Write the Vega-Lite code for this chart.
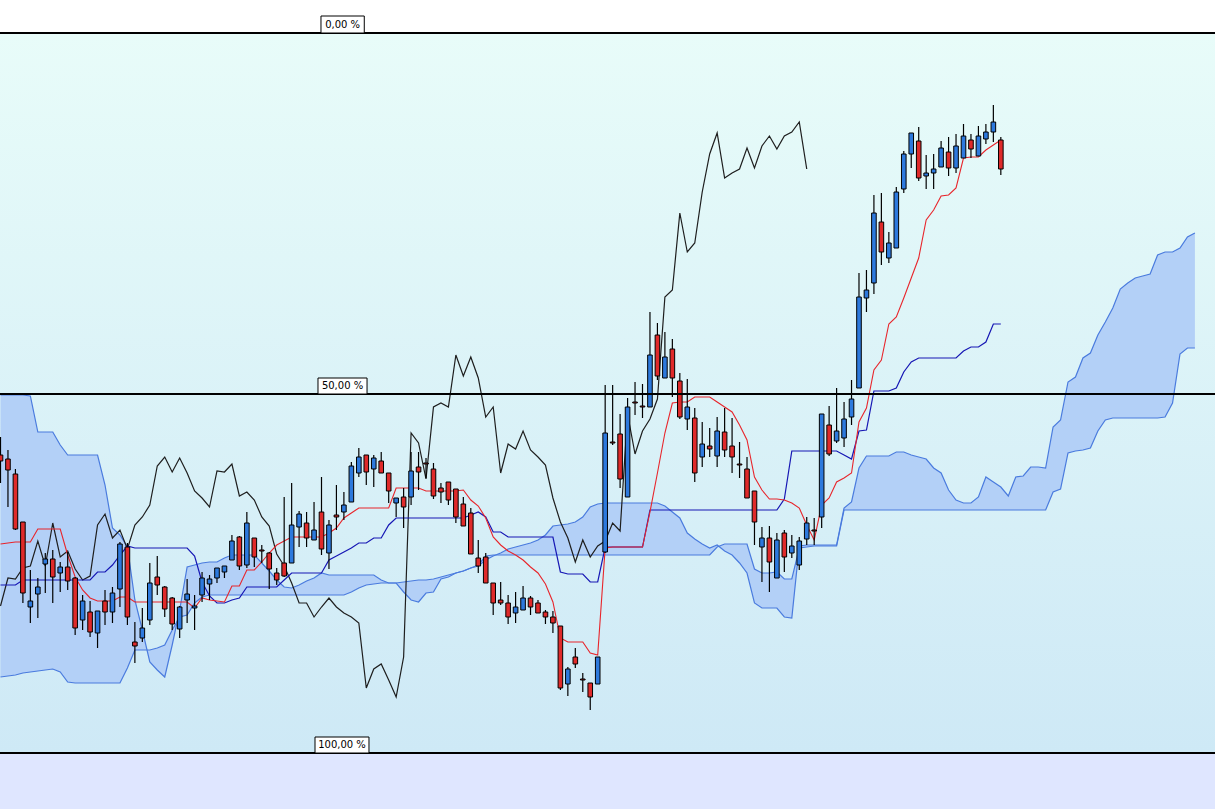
{
  "$schema": "https://vega.github.io/schema/vega-lite/v6.json",
  "width": 1215,
  "height": 809,
  "autosize": {"type": "none"},
  "padding": 0,
  "background": "#FFFFFF",
  "config": {"view": {"stroke": null}, "scale": {"continuousPadding": 0}},
  "datasets": {
    "bars": [
      {"i":0,"o":455,"h":437,"l":483,"c":461,"tk":544,"kj":585,"ck":606},
      {"i":1,"o":459,"h":450,"l":507,"c":470,"tk":543,"kj":585,"ck":578},
      {"i":2,"o":474,"h":469,"l":530,"c":529,"tk":542,"kj":585,"ck":579},
      {"i":3,"o":522,"h":522,"l":603,"c":593,"tk":542,"kj":580,"ck":568},
      {"i":4,"o":607,"h":570,"l":623,"c":601,"tk":542,"kj":580,"ck":566},
      {"i":5,"o":594,"h":578,"l":618,"c":587,"tk":529,"kj":580,"ck":541},
      {"i":6,"o":564,"h":553,"l":593,"c":559,"tk":529,"kj":580,"ck":566},
      {"i":7,"o":559,"h":550,"l":603,"c":577,"tk":529,"kj":580,"ck":523},
      {"i":8,"o":573,"h":562,"l":592,"c":567,"tk":529,"kj":580,"ck":557},
      {"i":9,"o":567,"h":552,"l":590,"c":581,"tk":555,"kj":580,"ck":551},
      {"i":10,"o":578,"h":577,"l":635,"c":628,"tk":577,"kj":580,"ck":569},
      {"i":11,"o":620,"h":595,"l":630,"c":601,"tk":590,"kj":580,"ck":580},
      {"i":12,"o":612,"h":601,"l":637,"c":632,"tk":598,"kj":580,"ck":576},
      {"i":13,"o":633,"h":611,"l":648,"c":611,"tk":601,"kj":572,"ck":525},
      {"i":14,"o":601,"h":590,"l":625,"c":612,"tk":601,"kj":572,"ck":514},
      {"i":15,"o":612,"h":587,"l":623,"c":593,"tk":601,"kj":565,"ck":538},
      {"i":16,"o":589,"h":542,"l":607,"c":544,"tk":597,"kj":555,"ck":530},
      {"i":17,"o":547,"h":543,"l":625,"c":617,"tk":597,"kj":546,"ck":549},
      {"i":18,"o":642,"h":622,"l":663,"c":646,"tk":602,"kj":548,"ck":525},
      {"i":19,"o":638,"h":608,"l":642,"c":628,"tk":602,"kj":548,"ck":517},
      {"i":20,"o":620,"h":563,"l":625,"c":583,"tk":602,"kj":548,"ck":505},
      {"i":21,"o":577,"h":556,"l":595,"c":585,"tk":602,"kj":548,"ck":466},
      {"i":22,"o":587,"h":586,"l":617,"c":609,"tk":602,"kj":548,"ck":457},
      {"i":23,"o":598,"h":597,"l":630,"c":624,"tk":602,"kj":548,"ck":472},
      {"i":24,"o":629,"h":606,"l":638,"c":607,"tk":602,"kj":548,"ck":458},
      {"i":25,"o":600,"h":579,"l":623,"c":594,"tk":602,"kj":548,"ck":473},
      {"i":26,"o":608,"h":595,"l":630,"c":606,"tk":608,"kj":556,"ck":491},
      {"i":27,"o":595,"h":572,"l":602,"c":578,"tk":598,"kj":582,"ck":498},
      {"i":28,"o":584,"h":575,"l":600,"c":579,"tk":600,"kj":596,"ck":507},
      {"i":29,"o":578,"h":568,"l":583,"c":568,"tk":601,"kj":603,"ck":471},
      {"i":30,"o":572,"h":566,"l":578,"c":566,"tk":602,"kj":603,"ck":472},
      {"i":31,"o":560,"h":535,"l":560,"c":541,"tk":586,"kj":600,"ck":464},
      {"i":32,"o":537,"h":536,"l":570,"c":566,"tk":586,"kj":598,"ck":496},
      {"i":33,"o":565,"h":512,"l":568,"c":523,"tk":570,"kj":587,"ck":492},
      {"i":34,"o":538,"h":538,"l":567,"c":557,"tk":570,"kj":587,"ck":500},
      {"i":35,"o":550,"h":545,"l":563,"c":551,"tk":562,"kj":587,"ck":517},
      {"i":36,"o":553,"h":552,"l":589,"c":569,"tk":553,"kj":587,"ck":526},
      {"i":37,"o":573,"h":568,"l":585,"c":580,"tk":545,"kj":587,"ck":554},
      {"i":38,"o":563,"h":497,"l":577,"c":576,"tk":541,"kj":580,"ck":566},
      {"i":39,"o":563,"h":483,"l":563,"c":525,"tk":537,"kj":573,"ck":583},
      {"i":40,"o":527,"h":511,"l":547,"c":514,"tk":537,"kj":573,"ck":603},
      {"i":41,"o":523,"h":512,"l":547,"c":538,"tk":537,"kj":573,"ck":603},
      {"i":42,"o":540,"h":502,"l":540,"c":530,"tk":537,"kj":573,"ck":617},
      {"i":43,"o":512,"h":477,"l":555,"c":549,"tk":537,"kj":573,"ck":607},
      {"i":44,"o":553,"h":520,"l":569,"c":525,"tk":533,"kj":560,"ck":598},
      {"i":45,"o":515,"h":485,"l":530,"c":517,"tk":528,"kj":556,"ck":607},
      {"i":46,"o":512,"h":492,"l":520,"c":505,"tk":518,"kj":552,"ck":613},
      {"i":47,"o":502,"h":462,"l":502,"c":466,"tk":513,"kj":548,"ck":617},
      {"i":48,"o":473,"h":448,"l":477,"c":457,"tk":508,"kj":543,"ck":623},
      {"i":49,"o":455,"h":455,"l":485,"c":472,"tk":508,"kj":543,"ck":688},
      {"i":50,"o":469,"h":455,"l":487,"c":458,"tk":508,"kj":538,"ck":669},
      {"i":51,"o":461,"h":452,"l":473,"c":473,"tk":508,"kj":538,"ck":664},
      {"i":52,"o":473,"h":473,"l":503,"c":491,"tk":508,"kj":525,"ck":680},
      {"i":53,"o":503,"h":498,"l":517,"c":498,"tk":488,"kj":518,"ck":697},
      {"i":54,"o":497,"h":488,"l":528,"c":507,"tk":488,"kj":518,"ck":657},
      {"i":55,"o":497,"h":452,"l":505,"c":471,"tk":488,"kj":518,"ck":433},
      {"i":56,"o":467,"h":452,"l":490,"c":472,"tk":488,"kj":518,"ck":443},
      {"i":57,"o":463,"h":458,"l":478,"c":464,"tk":491,"kj":518,"ck":479},
      {"i":58,"o":469,"h":463,"l":499,"c":496,"tk":491,"kj":518,"ck":407},
      {"i":59,"o":488,"h":483,"l":503,"c":492,"tk":491,"kj":518,"ck":403},
      {"i":60,"o":482,"h":482,"l":505,"c":500,"tk":491,"kj":518,"ck":407},
      {"i":61,"o":489,"h":489,"l":523,"c":517,"tk":491,"kj":518,"ck":355},
      {"i":62,"o":504,"h":497,"l":526,"c":526,"tk":490,"kj":518,"ck":376},
      {"i":63,"o":513,"h":508,"l":554,"c":554,"tk":500,"kj":515,"ck":357},
      {"i":64,"o":558,"h":540,"l":573,"c":566,"tk":506,"kj":512,"ck":378},
      {"i":65,"o":557,"h":553,"l":583,"c":583,"tk":518,"kj":517,"ck":417},
      {"i":66,"o":583,"h":583,"l":615,"c":603,"tk":537,"kj":532,"ck":407},
      {"i":67,"o":600,"h":582,"l":605,"c":603,"tk":545,"kj":532,"ck":473},
      {"i":68,"o":603,"h":595,"l":624,"c":617,"tk":551,"kj":537,"ck":444},
      {"i":69,"o":613,"h":592,"l":623,"c":607,"tk":555,"kj":537,"ck":449},
      {"i":70,"o":610,"h":586,"l":610,"c":598,"tk":560,"kj":537,"ck":431},
      {"i":71,"o":598,"h":596,"l":615,"c":607,"tk":567,"kj":537,"ck":450},
      {"i":72,"o":603,"h":600,"l":613,"c":613,"tk":573,"kj":537,"ck":457},
      {"i":73,"o":612,"h":610,"l":624,"c":617,"tk":584,"kj":537,"ck":465},
      {"i":74,"o":617,"h":611,"l":633,"c":623,"tk":602,"kj":537,"ck":498},
      {"i":75,"o":626,"h":626,"l":690,"c":688,"tk":638,"kj":572,"ck":522},
      {"i":76,"o":684,"h":667,"l":696,"c":669,"tk":642,"kj":574,"ck":538},
      {"i":77,"o":657,"h":648,"l":668,"c":664,"tk":642,"kj":574,"ck":562},
      {"i":78,"o":679,"h":673,"l":692,"c":680,"tk":642,"kj":574,"ck":540},
      {"i":79,"o":683,"h":683,"l":710,"c":697,"tk":653,"kj":582,"ck":557},
      {"i":80,"o":684,"h":657,"l":684,"c":657,"tk":655,"kj":582,"ck":546},
      {"i":81,"o":552,"h":385,"l":553,"c":433,"tk":548,"kj":547,"ck":541},
      {"i":82,"o":442,"h":385,"l":445,"c":443,"tk":547,"kj":547,"ck":523},
      {"i":83,"o":434,"h":414,"l":488,"c":479,"tk":547,"kj":547,"ck":531},
      {"i":84,"o":497,"h":398,"l":497,"c":407,"tk":547,"kj":547,"ck":414},
      {"i":85,"o":402,"h":382,"l":415,"c":403,"tk":547,"kj":547,"ck":454},
      {"i":86,"o":406,"h":384,"l":418,"c":407,"tk":547,"kj":547,"ck":431},
      {"i":87,"o":407,"h":312,"l":407,"c":355,"tk":512,"kj":510,"ck":419},
      {"i":88,"o":335,"h":323,"l":380,"c":376,"tk":473,"kj":510,"ck":399},
      {"i":89,"o":378,"h":332,"l":378,"c":357,"tk":433,"kj":510,"ck":297},
      {"i":90,"o":349,"h":339,"l":397,"c":378,"tk":403,"kj":510,"ck":290},
      {"i":91,"o":381,"h":373,"l":419,"c":417,"tk":402,"kj":510,"ck":213},
      {"i":92,"o":419,"h":379,"l":430,"c":407,"tk":402,"kj":510,"ck":252},
      {"i":93,"o":418,"h":408,"l":482,"c":473,"tk":397,"kj":510,"ck":243},
      {"i":94,"o":457,"h":422,"l":467,"c":444,"tk":397,"kj":510,"ck":192},
      {"i":95,"o":446,"h":428,"l":457,"c":449,"tk":397,"kj":510,"ck":154},
      {"i":96,"o":456,"h":417,"l":467,"c":431,"tk":402,"kj":510,"ck":133},
      {"i":97,"o":432,"h":408,"l":457,"c":450,"tk":407,"kj":510,"ck":178},
      {"i":98,"o":446,"h":418,"l":473,"c":457,"tk":412,"kj":510,"ck":173},
      {"i":99,"o":464,"h":442,"l":478,"c":465,"tk":425,"kj":510,"ck":169},
      {"i":100,"o":469,"h":457,"l":498,"c":498,"tk":440,"kj":510,"ck":148},
      {"i":101,"o":491,"h":491,"l":545,"c":522,"tk":477,"kj":510,"ck":168},
      {"i":102,"o":547,"h":527,"l":582,"c":538,"tk":490,"kj":510,"ck":146},
      {"i":103,"o":538,"h":526,"l":592,"c":562,"tk":499,"kj":510,"ck":136},
      {"i":104,"o":578,"h":533,"l":578,"c":540,"tk":499,"kj":510,"ck":149},
      {"i":105,"o":533,"h":530,"l":572,"c":557,"tk":500,"kj":499,"ck":136},
      {"i":106,"o":553,"h":535,"l":558,"c":546,"tk":503,"kj":451,"ck":132},
      {"i":107,"o":565,"h":537,"l":570,"c":541,"tk":508,"kj":451,"ck":122},
      {"i":108,"o":539,"h":517,"l":545,"c":523,"tk":525,"kj":451,"ck":169},
      {"i":109,"o":530,"h":518,"l":545,"c":531,"tk":540,"kj":451},
      {"i":110,"o":517,"h":414,"l":528,"c":414,"tk":505,"kj":451},
      {"i":111,"o":425,"h":406,"l":456,"c":454,"tk":498,"kj":451},
      {"i":112,"o":441,"h":388,"l":443,"c":431,"tk":482,"kj":451},
      {"i":113,"o":438,"h":402,"l":447,"c":419,"tk":478,"kj":455},
      {"i":114,"o":417,"h":380,"l":425,"c":399,"tk":473,"kj":459},
      {"i":115,"o":388,"h":273,"l":388,"c":297,"tk":422,"kj":431},
      {"i":116,"o":298,"h":270,"l":312,"c":290,"tk":408,"kj":430},
      {"i":117,"o":283,"h":195,"l":294,"c":213,"tk":370,"kj":391},
      {"i":118,"o":222,"h":193,"l":265,"c":252,"tk":360,"kj":391},
      {"i":119,"o":258,"h":232,"l":263,"c":243,"tk":324,"kj":391},
      {"i":120,"o":248,"h":187,"l":248,"c":192,"tk":317,"kj":388},
      {"i":121,"o":189,"h":151,"l":193,"c":154,"tk":298,"kj":372},
      {"i":122,"o":154,"h":133,"l":168,"c":133,"tk":278,"kj":362},
      {"i":123,"o":141,"h":127,"l":181,"c":178,"tk":258,"kj":358},
      {"i":124,"o":176,"h":155,"l":189,"c":173,"tk":220,"kj":358},
      {"i":125,"o":173,"h":154,"l":189,"c":169,"tk":210,"kj":358},
      {"i":126,"o":167,"h":141,"l":167,"c":148,"tk":196,"kj":358},
      {"i":127,"o":152,"h":137,"l":176,"c":168,"tk":195,"kj":358},
      {"i":128,"o":168,"h":134,"l":173,"c":146,"tk":188,"kj":358},
      {"i":129,"o":158,"h":124,"l":158,"c":136,"tk":158,"kj":351},
      {"i":130,"o":140,"h":134,"l":158,"c":149,"tk":157,"kj":347},
      {"i":131,"o":156,"h":126,"l":156,"c":136,"tk":157,"kj":347},
      {"i":132,"o":139,"h":124,"l":144,"c":132,"tk":150,"kj":342},
      {"i":133,"o":132,"h":105,"l":142,"c":122,"tk":145,"kj":324},
      {"i":134,"o":140,"h":137,"l":175,"c":169,"tk":140,"kj":324}
    ],
    "cloud": [
      {"i":0,"a":395,"b":677},{"i":1,"a":395,"b":676},{"i":2,"a":395,"b":675},{"i":3,"a":395,"b":673},
      {"i":4,"a":396,"b":672},{"i":5,"a":432,"b":671},{"i":6,"a":432,"b":670},{"i":7,"a":432,"b":669},
      {"i":8,"a":445,"b":672},{"i":9,"a":455,"b":682},{"i":10,"a":455,"b":683},{"i":11,"a":455,"b":683},
      {"i":12,"a":455,"b":683},{"i":13,"a":455,"b":683},{"i":14,"a":485,"b":683},{"i":15,"a":528,"b":683},
      {"i":16,"a":535,"b":683},{"i":17,"a":547,"b":668},{"i":18,"a":600,"b":650},{"i":19,"a":630,"b":650},
      {"i":20,"a":662,"b":650},{"i":21,"a":670,"b":648},{"i":22,"a":677,"b":645},{"i":23,"a":645,"b":630},
      {"i":24,"a":610,"b":617},{"i":25,"a":567,"b":615},{"i":26,"a":565,"b":603},{"i":27,"a":563,"b":597},
      {"i":28,"a":562,"b":595},{"i":29,"a":562,"b":595},{"i":30,"a":558,"b":595},{"i":31,"a":555,"b":595},
      {"i":32,"a":555,"b":595},{"i":33,"a":555,"b":595},{"i":34,"a":555,"b":595},{"i":35,"a":563,"b":595},
      {"i":36,"a":571,"b":595},{"i":37,"a":580,"b":595},{"i":38,"a":587,"b":595},{"i":39,"a":588,"b":595},
      {"i":40,"a":585,"b":595},{"i":41,"a":581,"b":595},{"i":42,"a":578,"b":595},{"i":43,"a":573,"b":595},
      {"i":44,"a":575,"b":595},{"i":45,"a":575,"b":595},{"i":46,"a":575,"b":595},{"i":47,"a":575,"b":592},
      {"i":48,"a":575,"b":588},{"i":49,"a":575,"b":585},{"i":50,"a":575,"b":584},{"i":51,"a":580,"b":583},
      {"i":52,"a":583,"b":583},{"i":53,"a":583,"b":583},{"i":54,"a":592,"b":582},{"i":55,"a":600,"b":581},
      {"i":56,"a":602,"b":580},{"i":57,"a":593,"b":580},{"i":58,"a":592,"b":579},{"i":59,"a":579,"b":577},
      {"i":60,"a":577,"b":575},{"i":61,"a":573,"b":573},{"i":62,"a":571,"b":571},{"i":63,"a":568,"b":568},
      {"i":64,"a":565,"b":566},{"i":65,"a":556,"b":560},{"i":66,"a":555,"b":556},{"i":67,"a":555,"b":553},
      {"i":68,"a":555,"b":549},{"i":69,"a":555,"b":547},{"i":70,"a":555,"b":545},{"i":71,"a":555,"b":543},
      {"i":72,"a":555,"b":540},{"i":73,"a":555,"b":535},{"i":74,"a":555,"b":526},{"i":75,"a":555,"b":525},
      {"i":76,"a":555,"b":524},{"i":77,"a":555,"b":522},{"i":78,"a":555,"b":517},{"i":79,"a":555,"b":507},
      {"i":80,"a":555,"b":504},{"i":81,"a":555,"b":503},{"i":82,"a":555,"b":503},{"i":83,"a":555,"b":503},
      {"i":84,"a":555,"b":503},{"i":85,"a":555,"b":503},{"i":86,"a":555,"b":503},{"i":87,"a":555,"b":503},
      {"i":88,"a":555,"b":503},{"i":89,"a":555,"b":506},{"i":90,"a":555,"b":512},{"i":91,"a":555,"b":518},
      {"i":92,"a":555,"b":533},{"i":93,"a":555,"b":539},{"i":94,"a":555,"b":544},{"i":95,"a":555,"b":548},
      {"i":96,"a":547,"b":545},{"i":97,"a":544,"b":551},{"i":98,"a":544,"b":555},{"i":99,"a":544,"b":563},
      {"i":100,"a":544,"b":573},{"i":101,"a":569,"b":603},{"i":102,"a":573,"b":608},{"i":103,"a":573,"b":608},
      {"i":104,"a":572,"b":608},{"i":105,"a":579,"b":617},{"i":106,"a":579,"b":618},{"i":107,"a":548,"b":546},
      {"i":108,"a":547,"b":545},{"i":109,"a":546,"b":545},{"i":110,"a":546,"b":545},{"i":111,"a":546,"b":545},
      {"i":112,"a":546,"b":545},{"i":113,"a":510,"b":508},{"i":114,"a":510,"b":502},{"i":115,"a":510,"b":468},
      {"i":116,"a":510,"b":456},{"i":117,"a":510,"b":456},{"i":118,"a":510,"b":456},{"i":119,"a":510,"b":456},
      {"i":120,"a":510,"b":452},{"i":121,"a":510,"b":452},{"i":122,"a":510,"b":455},{"i":123,"a":510,"b":457},
      {"i":124,"a":510,"b":459},{"i":125,"a":510,"b":468},{"i":126,"a":510,"b":473},{"i":127,"a":510,"b":490},
      {"i":128,"a":510,"b":500},{"i":129,"a":510,"b":503},{"i":130,"a":510,"b":503},{"i":131,"a":510,"b":497},
      {"i":132,"a":510,"b":477},{"i":133,"a":510,"b":482},{"i":134,"a":510,"b":487},{"i":135,"a":510,"b":496},
      {"i":136,"a":510,"b":477},{"i":137,"a":510,"b":476},{"i":138,"a":510,"b":467},{"i":139,"a":510,"b":467},
      {"i":140,"a":510,"b":468},{"i":141,"a":492,"b":427},{"i":142,"a":489,"b":420},{"i":143,"a":453,"b":382},
      {"i":144,"a":451,"b":377},{"i":145,"a":450,"b":358},{"i":146,"a":448,"b":353},{"i":147,"a":431,"b":335},
      {"i":148,"a":420,"b":322},{"i":149,"a":418,"b":308},{"i":150,"a":418,"b":289},{"i":151,"a":418,"b":283},
      {"i":152,"a":418,"b":278},{"i":153,"a":418,"b":276},{"i":154,"a":418,"b":274},{"i":155,"a":418,"b":255},
      {"i":156,"a":417,"b":252},{"i":157,"a":403,"b":252},{"i":158,"a":354,"b":248},{"i":159,"a":348,"b":237},
      {"i":160,"a":348,"b":233}
    ],
    "levels": [
      {"level":33,"top":16,"from":42.93,"to":48.73,"mid":45.83,"label":"0,00 %"},
      {"level":394,"top":378,"from":42.53,"to":49.1,"mid":45.82,"label":"50,00 %"},
      {"level":753,"top":737,"from":42.13,"to":49.36,"mid":45.75,"label":"100,00 %"}
    ]
  },
  "layer": [
    {
      "data": {"values": [{}]},
      "mark": {
        "type": "rect",
        "color": {
          "gradient": "linear", "x1": 0, "y1": 0, "x2": 0, "y2": 1,
          "stops": [{"offset": 0, "color": "#E8FCF9"}, {"offset": 1, "color": "#CEE9F6"}]
        }
      },
      "encoding": {
        "x": {"datum": -0.067, "type": "quantitative", "scale": {"domain": [-0.067, 162.69], "nice": false, "zero": false, "padding": 0}, "axis": null},
        "x2": {"datum": 162.69},
        "y": {"datum": 33, "type": "quantitative", "scale": {"domain": [0, 809], "reverse": true, "nice": false, "zero": false, "padding": 0}, "axis": null},
        "y2": {"datum": 753}
      }
    },
    {
      "data": {"values": [{}]},
      "mark": {"type": "rect", "color": "#DFE6FF"},
      "encoding": {
        "x": {"datum": -0.067, "type": "quantitative", "scale": {"domain": [-0.067, 162.69], "nice": false, "zero": false, "padding": 0}, "axis": null},
        "x2": {"datum": 162.69},
        "y": {"datum": 753, "type": "quantitative", "scale": {"domain": [0, 809], "reverse": true, "nice": false, "zero": false, "padding": 0}, "axis": null},
        "y2": {"datum": 809}
      }
    },
    {
      "data": {"name": "cloud"},
      "mark": {"type": "area", "color": "#B3D0F7", "opacity": 1},
      "encoding": {
        "x": {"field": "i", "type": "quantitative", "scale": {"domain": [-0.067, 162.69], "nice": false, "zero": false, "padding": 0}, "axis": null},
        "y": {"field": "a", "type": "quantitative", "scale": {"domain": [0, 809], "reverse": true, "nice": false, "zero": false, "padding": 0}, "axis": null},
        "y2": {"field": "b"}
      }
    },
    {
      "data": {"name": "cloud"},
      "mark": {"type": "line", "color": "#4A7BDE", "strokeWidth": 1.2},
      "encoding": {
        "x": {"field": "i", "type": "quantitative", "scale": {"domain": [-0.067, 162.69], "nice": false, "zero": false, "padding": 0}, "axis": null},
        "y": {"field": "a", "type": "quantitative", "scale": {"domain": [0, 809], "reverse": true, "nice": false, "zero": false, "padding": 0}, "axis": null}
      }
    },
    {
      "data": {"name": "cloud"},
      "mark": {"type": "line", "color": "#4A7BDE", "strokeWidth": 1.2},
      "encoding": {
        "x": {"field": "i", "type": "quantitative", "scale": {"domain": [-0.067, 162.69], "nice": false, "zero": false, "padding": 0}, "axis": null},
        "y": {"field": "b", "type": "quantitative", "scale": {"domain": [0, 809], "reverse": true, "nice": false, "zero": false, "padding": 0}, "axis": null}
      }
    },
    {
      "data": {"name": "bars"},
      "transform": [{"filter": "isValid(datum.ck)"}],
      "mark": {"type": "line", "color": "#1E1E1E", "strokeWidth": 1.2},
      "encoding": {
        "x": {"field": "i", "type": "quantitative", "scale": {"domain": [-0.067, 162.69], "nice": false, "zero": false, "padding": 0}, "axis": null},
        "y": {"field": "ck", "type": "quantitative", "scale": {"domain": [0, 809], "reverse": true, "nice": false, "zero": false, "padding": 0}, "axis": null}
      }
    },
    {
      "data": {"name": "bars"},
      "mark": {"type": "line", "color": "#1616B4", "strokeWidth": 1.2},
      "encoding": {
        "x": {"field": "i", "type": "quantitative", "scale": {"domain": [-0.067, 162.69], "nice": false, "zero": false, "padding": 0}, "axis": null},
        "y": {"field": "kj", "type": "quantitative", "scale": {"domain": [0, 809], "reverse": true, "nice": false, "zero": false, "padding": 0}, "axis": null}
      }
    },
    {
      "data": {"name": "bars"},
      "mark": {"type": "line", "color": "#E8252B", "strokeWidth": 1.1},
      "encoding": {
        "x": {"field": "i", "type": "quantitative", "scale": {"domain": [-0.067, 162.69], "nice": false, "zero": false, "padding": 0}, "axis": null},
        "y": {"field": "tk", "type": "quantitative", "scale": {"domain": [0, 809], "reverse": true, "nice": false, "zero": false, "padding": 0}, "axis": null}
      }
    },
    {
      "data": {"name": "bars"},
      "mark": {"type": "rule", "color": "#000000", "strokeWidth": 1.2},
      "encoding": {
        "x": {"field": "i", "type": "quantitative", "scale": {"domain": [-0.067, 162.69], "nice": false, "zero": false, "padding": 0}, "axis": null},
        "y": {"field": "h", "type": "quantitative", "scale": {"domain": [0, 809], "reverse": true, "nice": false, "zero": false, "padding": 0}, "axis": null},
        "y2": {"field": "l"}
      }
    },
    {
      "data": {"name": "bars"},
      "mark": {"type": "bar", "width": 4.6, "stroke": "#000000", "strokeWidth": 1},
      "encoding": {
        "x": {"field": "i", "type": "quantitative", "scale": {"domain": [-0.067, 162.69], "nice": false, "zero": false, "padding": 0}, "axis": null},
        "y": {"field": "o", "type": "quantitative", "scale": {"domain": [0, 809], "reverse": true, "nice": false, "zero": false, "padding": 0}, "axis": null},
        "y2": {"field": "c"},
        "fill": {"condition": {"test": "datum.c < datum.o", "value": "#2D79DD"}, "value": "#DF2A2A"}
      }
    },
    {
      "data": {"name": "levels"},
      "mark": {"type": "rule", "color": "#000000", "strokeWidth": 2},
      "encoding": {
        "y": {"field": "level", "type": "quantitative", "scale": {"domain": [0, 809], "reverse": true, "nice": false, "zero": false, "padding": 0}, "axis": null}
      }
    },
    {
      "data": {"name": "levels"},
      "mark": {"type": "rect", "fill": "#FFFFFF", "stroke": "#000000", "strokeWidth": 1},
      "encoding": {
        "x": {"field": "from", "type": "quantitative", "scale": {"domain": [-0.067, 162.69], "nice": false, "zero": false, "padding": 0}, "axis": null},
        "x2": {"field": "to"},
        "y": {"field": "top", "type": "quantitative", "scale": {"domain": [0, 809], "reverse": true, "nice": false, "zero": false, "padding": 0}, "axis": null},
        "y2": {"field": "level"}
      }
    },
    {
      "data": {"name": "levels"},
      "mark": {"type": "text", "font": "DejaVu Sans", "fontSize": 10, "color": "#000000", "align": "center", "baseline": "alphabetic", "dy": -5},
      "encoding": {
        "x": {"field": "mid", "type": "quantitative", "scale": {"domain": [-0.067, 162.69], "nice": false, "zero": false, "padding": 0}, "axis": null},
        "y": {"field": "level", "type": "quantitative", "scale": {"domain": [0, 809], "reverse": true, "nice": false, "zero": false, "padding": 0}, "axis": null},
        "text": {"field": "label"}
      }
    }
  ]
}
